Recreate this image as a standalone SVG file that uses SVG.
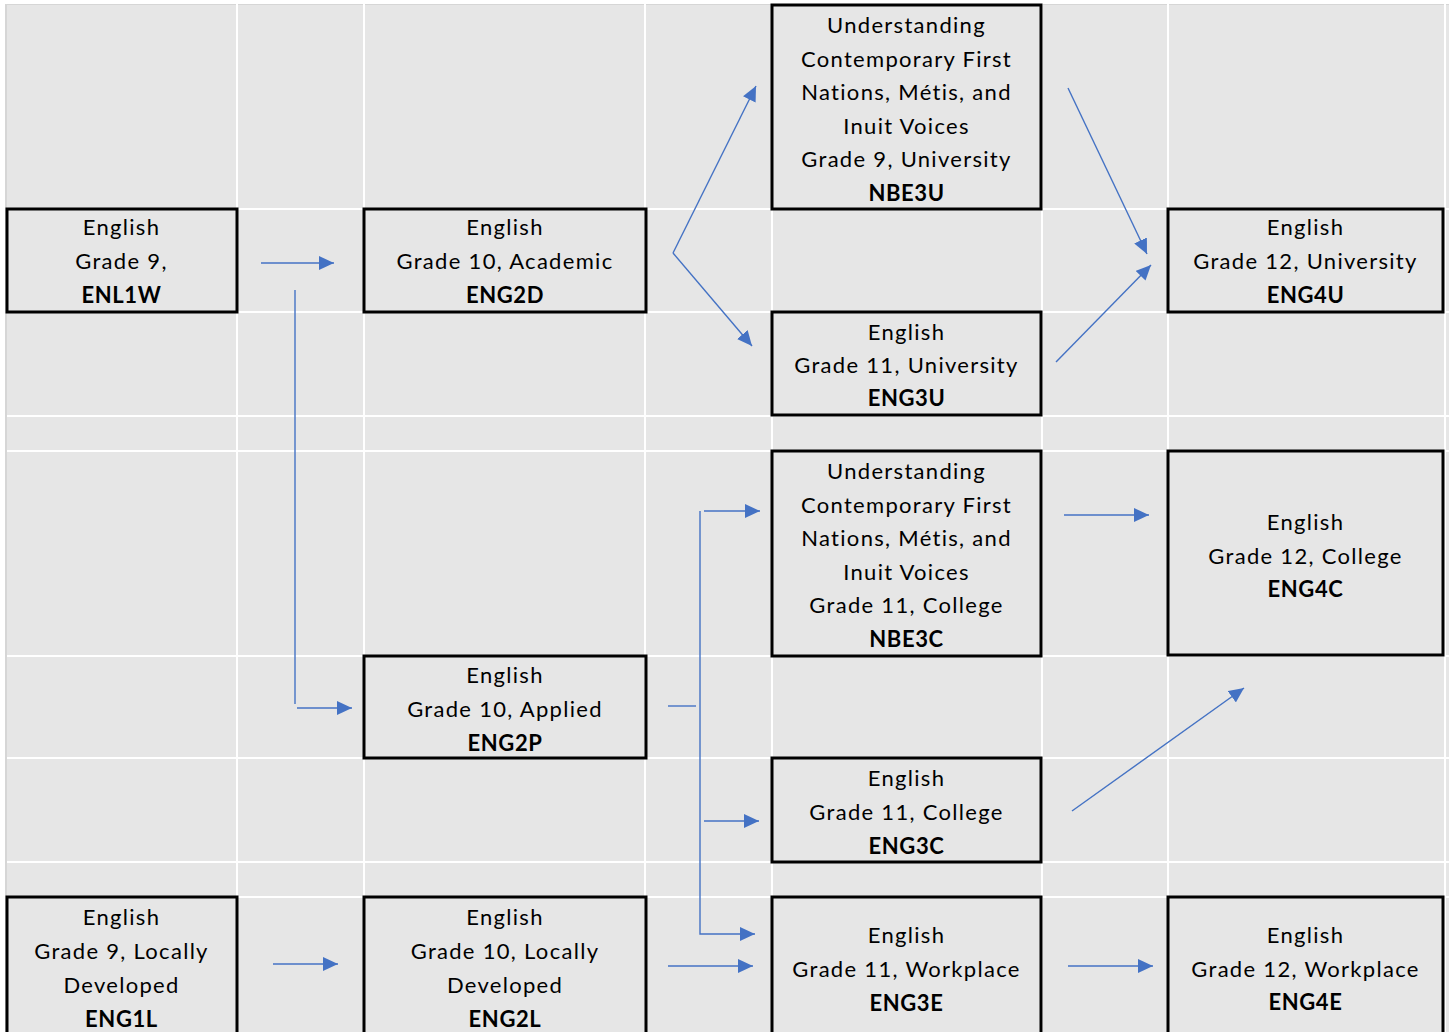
<svg xmlns="http://www.w3.org/2000/svg" width="1449" height="1032" viewBox="0 0 1449 1032">
<style>
.box{fill:#e6e6e6;stroke:#000;stroke-width:3}
.grid{stroke:#fff;stroke-width:2}
.t{font-family:Lato,"Open Sans","Liberation Sans",sans-serif;font-size:22px;letter-spacing:1.3px;fill:#000;text-anchor:middle}
.b{font-weight:bold;letter-spacing:0.6px}
.c{fill:none;stroke:#4472C4;stroke-width:1.4}
.a{marker-end:url(#ah)}
</style>
<defs>
<marker id="ah" markerUnits="userSpaceOnUse" markerWidth="16" markerHeight="14" refX="15" refY="7" orient="auto">
<path d="M0,0 L15,7 L0,14 z" fill="#4472C4"/>
</marker>
</defs>
<g id="background">
<rect x="0" y="0" width="1449" height="1032" fill="#fff"/>
<rect x="5" y="4" width="1444" height="1028" fill="#e6e6e6"/>
<rect x="5" y="4" width="2" height="1028" fill="#d6d6d6"/>
<rect x="5" y="4" width="1444" height="1" fill="#d6d6d6"/>
<g class="grid">
<line x1="237" y1="4" x2="237" y2="1032"/>
<line x1="364" y1="4" x2="364" y2="1032"/>
<line x1="645" y1="4" x2="645" y2="1032"/>
<line x1="772" y1="4" x2="772" y2="1032"/>
<line x1="1042" y1="4" x2="1042" y2="1032"/>
<line x1="1168" y1="4" x2="1168" y2="1032"/>
<line x1="1445" y1="4" x2="1445" y2="1032"/>
<line x1="7" y1="209" x2="1449" y2="209"/>
<line x1="7" y1="312" x2="1449" y2="312"/>
<line x1="7" y1="416" x2="1449" y2="416"/>
<line x1="7" y1="451" x2="1449" y2="451"/>
<line x1="7" y1="656" x2="1449" y2="656"/>
<line x1="7" y1="758" x2="1449" y2="758"/>
<line x1="7" y1="862" x2="1449" y2="862"/>
<line x1="7" y1="897" x2="1449" y2="897"/>
</g>
</g>
<g id="ENL1W">
<rect class="box" x="7" y="209" width="230" height="103"/>
<text class="t" x="121.5" y="235">English</text>
<text class="t" x="121.5" y="269">Grade 9,</text>
<text class="t b" x="121.5" y="303">ENL1W</text>
</g>
<g id="ENG2D">
<rect class="box" x="364" y="209" width="282" height="103"/>
<text class="t" x="505" y="235">English</text>
<text class="t" x="505" y="269">Grade 10, Academic</text>
<text class="t b" x="505" y="303">ENG2D</text>
</g>
<g id="NBE3U">
<rect class="box" x="772" y="5" width="269" height="204"/>
<text class="t" x="906.5" y="33">Understanding</text>
<text class="t" x="906.5" y="66.6">Contemporary First</text>
<text class="t" x="906.5" y="100.2">Nations, Métis, and</text>
<text class="t" x="906.5" y="133.8">Inuit Voices</text>
<text class="t" x="906.5" y="167.4">Grade 9, University</text>
<text class="t b" x="906.5" y="201">NBE3U</text>
</g>
<g id="ENG3U">
<rect class="box" x="772" y="312" width="269" height="103"/>
<text class="t" x="906.5" y="340">English</text>
<text class="t" x="906.5" y="373">Grade 11, University</text>
<text class="t b" x="906.5" y="406">ENG3U</text>
</g>
<g id="ENG4U">
<rect class="box" x="1168" y="209" width="275" height="103"/>
<text class="t" x="1305.5" y="235">English</text>
<text class="t" x="1305.5" y="269">Grade 12, University</text>
<text class="t b" x="1305.5" y="303">ENG4U</text>
</g>
<g id="NBE3C">
<rect class="box" x="772" y="451" width="269" height="205"/>
<text class="t" x="906.5" y="479">Understanding</text>
<text class="t" x="906.5" y="512.6">Contemporary First</text>
<text class="t" x="906.5" y="546.2">Nations, Métis, and</text>
<text class="t" x="906.5" y="579.8">Inuit Voices</text>
<text class="t" x="906.5" y="613.4">Grade 11, College</text>
<text class="t b" x="906.5" y="647">NBE3C</text>
</g>
<g id="ENG4C">
<rect class="box" x="1168" y="451" width="275" height="204"/>
<text class="t" x="1305.5" y="530">English</text>
<text class="t" x="1305.5" y="564">Grade 12, College</text>
<text class="t b" x="1305.5" y="597">ENG4C</text>
</g>
<g id="ENG2P">
<rect class="box" x="364" y="656" width="282" height="102"/>
<text class="t" x="505" y="683">English</text>
<text class="t" x="505" y="717">Grade 10, Applied</text>
<text class="t b" x="505" y="751">ENG2P</text>
</g>
<g id="ENG3C">
<rect class="box" x="772" y="758" width="269" height="104"/>
<text class="t" x="906.5" y="786">English</text>
<text class="t" x="906.5" y="820">Grade 11, College</text>
<text class="t b" x="906.5" y="854">ENG3C</text>
</g>
<g id="ENG1L">
<rect class="box" x="7" y="897" width="230" height="140"/>
<text class="t" x="121.5" y="925">English</text>
<text class="t" x="121.5" y="959">Grade 9, Locally</text>
<text class="t" x="121.5" y="993">Developed</text>
<text class="t b" x="121.5" y="1027">ENG1L</text>
</g>
<g id="ENG2L">
<rect class="box" x="364" y="897" width="282" height="140"/>
<text class="t" x="505" y="925">English</text>
<text class="t" x="505" y="959">Grade 10, Locally</text>
<text class="t" x="505" y="993">Developed</text>
<text class="t b" x="505" y="1027">ENG2L</text>
</g>
<g id="ENG3E">
<rect class="box" x="772" y="897" width="269" height="140"/>
<text class="t" x="906.5" y="943">English</text>
<text class="t" x="906.5" y="977">Grade 11, Workplace</text>
<text class="t b" x="906.5" y="1011">ENG3E</text>
</g>
<g id="ENG4E">
<rect class="box" x="1168" y="897" width="275" height="140"/>
<text class="t" x="1305.5" y="943">English</text>
<text class="t" x="1305.5" y="977">Grade 12, Workplace</text>
<text class="t b" x="1305.5" y="1010">ENG4E</text>
</g>
<g id="connectors">
<path class="c a" d="M261,263 L334,263"/>
<path class="c" d="M295,290 L295,704"/>
<path class="c a" d="M297,708 L352,708"/>
<path class="c a" d="M673,253 L756,86"/>
<path class="c a" d="M673,253 L752,346"/>
<path class="c a" d="M1068,88 L1147,254"/>
<path class="c a" d="M1056,362 L1151,265"/>
<path class="c" d="M668,706 L696,706"/>
<path class="c a" d="M700,511 L700,934 L755,934"/>
<path class="c a" d="M704,511 L760,511"/>
<path class="c a" d="M704,821 L759,821"/>
<path class="c a" d="M668,966 L753,966"/>
<path class="c a" d="M273,964 L338,964"/>
<path class="c a" d="M1064,515 L1149,515"/>
<path class="c a" d="M1072,811 L1244,688"/>
<path class="c a" d="M1068,966 L1153,966"/>
</g>
</svg>
